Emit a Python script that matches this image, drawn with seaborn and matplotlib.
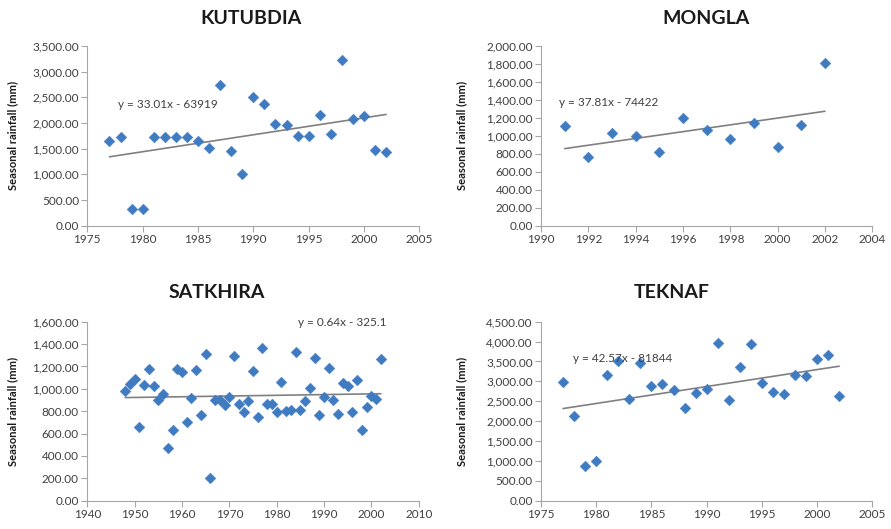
import matplotlib
matplotlib.use("Agg")
import matplotlib.pyplot as plt
import seaborn as sns
import pandas as pd
import numpy as np
from matplotlib.ticker import FuncFormatter, MultipleLocator

# ---------------- data ----------------
kutubdia_years = list(range(1977, 2003))
kutubdia_rain = [1640, 1730, 330, 320, 1730, 1730, 1730, 1730, 1650, 1520,
                 2740, 1450, 1000, 2500, 2380, 1990, 1960, 1740, 1750, 2160,
                 1790, 3220, 2070, 2140, 1480, 1430]
kutubdia_fit = (33.01, -63919)

mongla_years = list(range(1991, 2003))
mongla_rain = [1115, 770, 1030, 1000, 820, 1200, 1070, 970, 1140, 880, 1120, 1810]
mongla_fit = (37.81, -74422)

satkhira_years = list(range(1948, 2003))
satkhira_rain = [982, 1045, 1089, 658, 1030, 1176, 1024, 902, 958, 470,
                 628, 1176, 1149, 699, 917, 1167, 762, 1313, 202, 902,
                 899, 852, 928, 1289, 866, 795, 893, 1161, 747, 1363,
                 866, 863, 789, 1057, 798, 815, 1333, 815, 890, 1006,
                 1277, 768, 923, 1185, 899, 774, 1055, 1025, 792, 1083,
                 628, 836, 938, 906, 1271]
satkhira_fit = (0.64, -325.1)

teknaf_years = list(range(1977, 2003))
teknaf_rain = [2980, 2120, 860, 1000, 3170, 3500, 2560, 3450, 2880, 2940,
               2780, 2340, 2720, 2800, 3960, 2530, 3370, 3940, 2950, 2730,
               2680, 3160, 3140, 3550, 3670, 2640]
teknaf_fit = (42.57, -81844)

titles = ["KUTUBDIA", "MONGLA", "SATKHIRA", "TEKNAF"]
equations = ["y = 33.01x - 63919", "y = 37.81x - 74422",
             "y = 0.64x - 325.1", "y = 42.57x - 81844"]
y_label = "Seasonal rainfall (mm)"

# ---------------- style ----------------
sns.set_style("white")
plt.rcParams["font.family"] = ["Lato", "DejaVu Sans"]

W, H = 891, 529
fig = plt.figure(figsize=(W / 100, H / 100), dpi=100)

def px_axes(l, t, r, b):
    return fig.add_axes([l / W, 1 - b / H, (r - l) / W, (b - t) / H])

panels = [
    dict(rect=(87.3, 46, 419.3, 225.7), years=kutubdia_years, rain=kutubdia_rain,
         fit=kutubdia_fit, xlim=(1975, 2005), xstep=5, ylim=(0, 3500), ystep=500,
         title_xy=(251, 18), eq_xy=(118, 104), ylab_x=13),
    dict(rect=(541, 46, 872.3, 225.7), years=mongla_years, rain=mongla_rain,
         fit=mongla_fit, xlim=(1990, 2004), xstep=2, ylim=(0, 2000), ystep=200,
         title_xy=(706, 18), eq_xy=(559, 103), ylab_x=462),
    dict(rect=(87.3, 321.7, 418.7, 500.7), years=satkhira_years, rain=satkhira_rain,
         fit=satkhira_fit, xlim=(1940, 2010), xstep=10, ylim=(0, 1600), ystep=200,
         title_xy=(217, 293), eq_xy=(298, 322), ylab_x=13),
    dict(rect=(541, 321.7, 872.3, 500.7), years=teknaf_years, rain=teknaf_rain,
         fit=teknaf_fit, xlim=(1975, 2005), xstep=5, ylim=(0, 4500), ystep=500,
         title_xy=(672, 293), eq_xy=(573, 358), ylab_x=462),
]

marker_color = "#3F7BC1"
tick_color = "#404040"
spine_color = "#A6A6A6"

for i, p in enumerate(panels):
    ax = px_axes(*p["rect"])
    df = pd.DataFrame({"year": p["years"], "rain": p["rain"]})
    sns.scatterplot(data=df, x="year", y="rain", ax=ax, marker="D", s=30,
                    color=marker_color, edgecolor=marker_color, linewidth=0.3,
                    zorder=3)
    a, b = p["fit"]
    x0, x1 = min(p["years"]), max(p["years"])
    line_df = pd.DataFrame({"year": [x0, x1], "rain": [a * x0 + b, a * x1 + b]})
    sns.lineplot(data=line_df, x="year", y="rain", ax=ax, color="#808080",
                 linewidth=1.2, zorder=2)
    ax.set_xlim(*p["xlim"])
    ax.set_ylim(*p["ylim"])
    ax.xaxis.set_major_locator(MultipleLocator(p["xstep"]))
    ax.yaxis.set_major_locator(MultipleLocator(p["ystep"]))
    ax.yaxis.set_major_formatter(FuncFormatter(lambda v, _: f"{v:,.2f}"))
    ax.xaxis.set_major_formatter(FuncFormatter(lambda v, _: f"{int(round(v))}"))
    ax.set_xlabel("")
    ax.set_ylabel("")
    for s in ["top", "right"]:
        ax.spines[s].set_visible(False)
    for s in ["left", "bottom"]:
        ax.spines[s].set_color(spine_color)
        ax.spines[s].set_linewidth(0.8)
    ax.tick_params(axis="both", which="major", direction="out", length=4,
                   width=0.8, color=spine_color, labelsize=8.5,
                   labelcolor=tick_color, pad=2)
    ax.tick_params(left=True, bottom=True)

    tx, ty = p["title_xy"]
    fig.text(tx / W, 1 - ty / H, titles[i], ha="center", va="center",
             fontsize=14, fontweight="bold", color="#1a1a1a")
    ex, ey = p["eq_xy"]
    fig.text(ex / W, 1 - ey / H, equations[i], ha="left", va="center",
             fontsize=8.5, color=tick_color)
    l, t, r, bt = p["rect"]
    fig.text(p["ylab_x"] / W, 1 - ((t + bt) / 2) / H, y_label, rotation=90,
             ha="center", va="center", fontsize=8, fontweight="bold",
             color="#1a1a1a")

fig.savefig("out.png", dpi=100)
